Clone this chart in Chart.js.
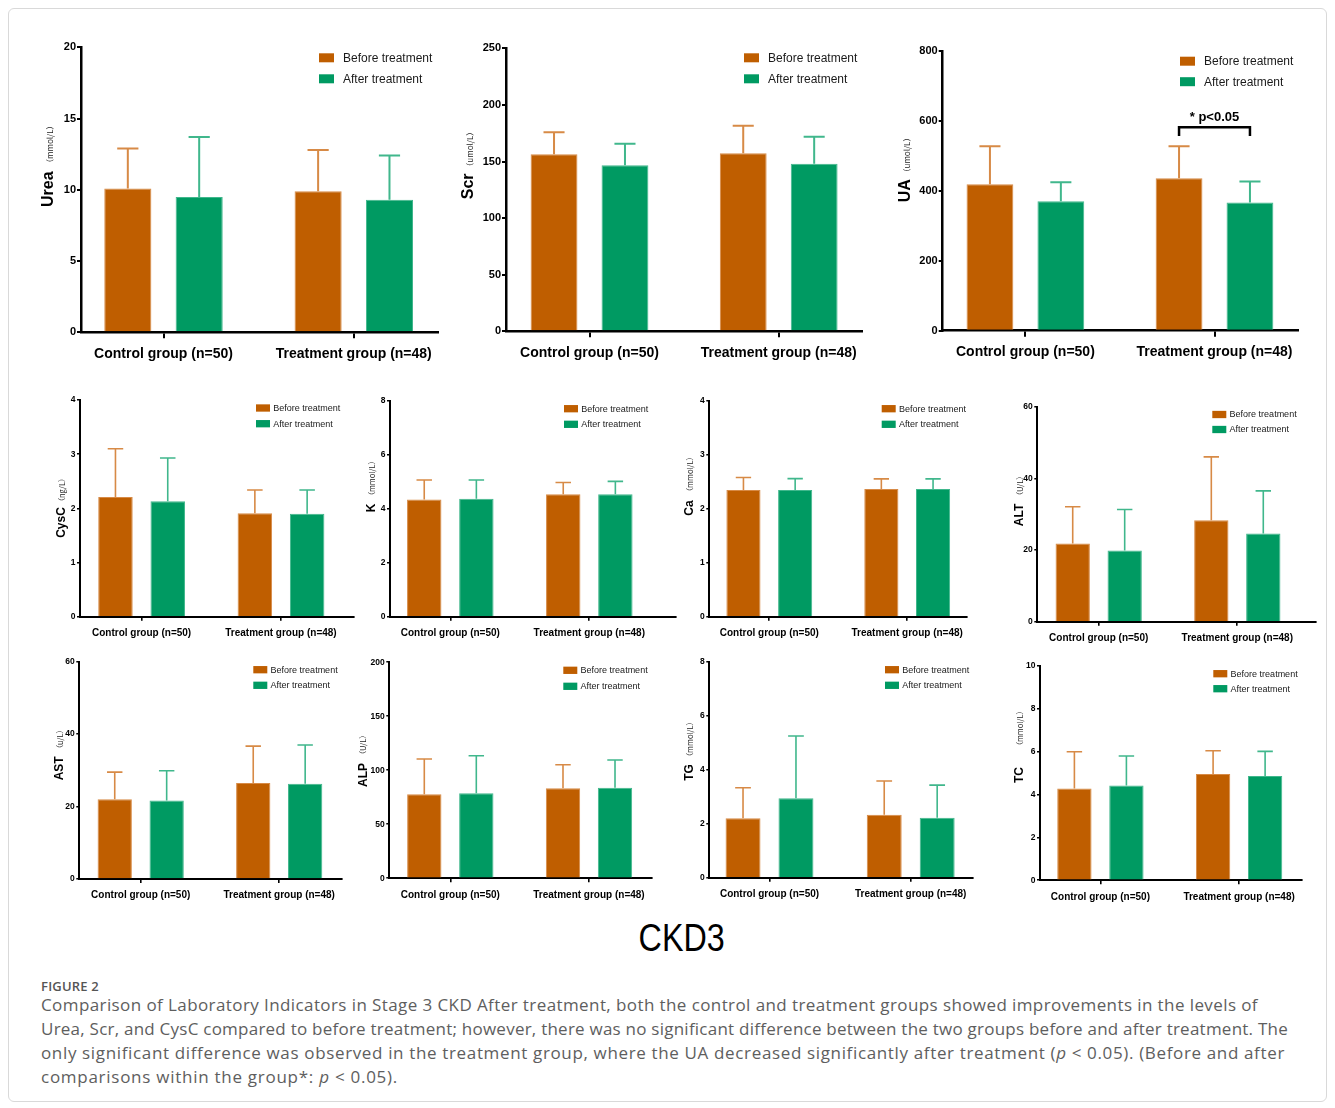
<!DOCTYPE html>
<html><head><meta charset="utf-8">
<script src="https://cdn.jsdelivr.net/npm/chart.js@4.4.0/dist/chart.umd.min.js"></script>
<style>
html,body{margin:0;padding:0;background:#fff;}
#page{position:relative;width:1335px;height:1108px;overflow:hidden;background:#fff;}
#frame{position:absolute;left:8px;top:8px;width:1319px;height:1094px;border:1px solid #d9d9d9;border-radius:6px;box-sizing:border-box;}
canvas{position:absolute;}
#ckd{position:absolute;left:14px;width:1335px;top:919px;height:38px;line-height:38px;text-align:center;font-family:"Liberation Sans",Arial,sans-serif;font-size:38px;color:#000;}
#ckd span{display:inline-block;transform:scaleX(0.85);}
#figlabel{position:absolute;left:41px;top:978px;font-family:"Open Sans",sans-serif;font-size:13px;line-height:16px;font-weight:600;color:#555;letter-spacing:0.2px;}
#caption{position:absolute;left:41px;top:993px;font-family:"Open Sans",sans-serif;font-size:17px;line-height:24px;color:#5e5e5e;white-space:nowrap;}
#caption .ln{height:24px;}
</style></head>
<body>
<div id="page">
<div id="frame"></div>
<div id="ckd"><span>CKD3</span></div>
<div id="figlabel">FIGURE 2</div>
<div id="caption">
<div class="ln" data-w="1217"><span>Comparison of Laboratory Indicators in Stage 3 CKD After treatment, both the control and treatment groups showed improvements in the levels of</span></div>
<div class="ln" data-w="1247"><span>Urea, Scr, and CysC compared to before treatment; however, there was no significant difference between the two groups before and after treatment. The</span></div>
<div class="ln" data-w="1244"><span>only significant difference was observed in the treatment group, where the UA decreased significantly after treatment (<i>p</i> &lt; 0.05). (Before and after</span></div>
<div class="ln" data-w="357"><span>comparisons within the group*: <i>p</i> &lt; 0.05).</span></div>
</div>
</div>
<script>
// ---------- data ----------
const categories = ['Control group (n=50)', 'Treatment group (n=48)'];
const seriesNames = ['Before treatment', 'After treatment'];

const ureaBefore = [10.1, 9.9];   const ureaBeforeSD = [2.8, 2.9];
const ureaAfter  = [9.5, 9.3];    const ureaAfterSD  = [4.2, 3.1];
const ureaTicks  = [0, 5, 10, 15, 20];

const scrBefore = [156.4, 157.2]; const scrBeforeSD = [19.4, 24.4];
const scrAfter  = [146.6, 148.1]; const scrAfterSD  = [19.1, 23.8];
const scrTicks  = [0, 50, 100, 150, 200, 250];

const uaBefore = [419, 436];      const uaBeforeSD = [108.5, 91.5];
const uaAfter  = [370, 367];      const uaAfterSD  = [54.5, 60];
const uaTicks  = [0, 200, 400, 600, 800];
const uaSigLabel = '* p<0.05';
const uaSigBracket = [582, 557];   // bracket bar level, leg end
const uaSigText = 610;

const cyscBefore = [2.21, 1.91];  const cyscBeforeSD = [0.89, 0.43];
const cyscAfter  = [2.13, 1.90];  const cyscAfterSD  = [0.80, 0.44];
const cyscTicks  = [0, 1, 2, 3, 4];

const kBefore = [4.35, 4.54];     const kBeforeSD = [0.72, 0.44];
const kAfter  = [4.37, 4.54];     const kAfterSD  = [0.70, 0.48];
const kTicks  = [0, 2, 4, 6, 8];

const caBefore = [2.35, 2.37];    const caBeforeSD = [0.23, 0.185];
const caAfter  = [2.35, 2.37];    const caAfterSD  = [0.21, 0.185];
const caTicks  = [0, 1, 2, 3, 4];

const altBefore = [21.8, 28.3];   const altBeforeSD = [10.3, 17.7];
const altAfter  = [19.9, 24.6];   const altAfterSD  = [11.4, 11.9];
const altTicks  = [0, 20, 40, 60];

const astBefore = [22.0, 26.5];   const astBeforeSD = [7.5, 10.2];
const astAfter  = [21.7, 26.3];   const astAfterSD  = [8.2, 10.7];
const astTicks  = [0, 20, 40, 60];

const alpBefore = [77.8, 83.3];   const alpBeforeSD = [32.7, 21.9];
const alpAfter  = [78.7, 83.9];   const alpAfterSD  = [34.8, 25.6];
const alpTicks  = [0, 50, 100, 150, 200];

const tgBefore = [2.20, 2.33];    const tgBeforeSD = [1.13, 1.25];
const tgAfter  = [2.94, 2.22];    const tgAfterSD  = [2.31, 1.21];
const tgTicks  = [0, 2, 4, 6, 8];

const tcBefore = [4.28, 4.95];    const tcBeforeSD = [1.71, 1.09];
const tcAfter  = [4.42, 4.86];    const tcAfterSD  = [1.37, 1.15];
const tcTicks  = [0, 2, 4, 6, 8, 10];

// ---------- styles ----------
const ORANGE = '#BF5E00', ORANGE_LT = '#D78A46';
const GREEN = '#009A62', GREEN_LT = '#40B78C';
const FONT = '"Liberation Sans", Arial, sans-serif';
const BIG = {tick:11, cat:14, leg:12, box:[15,9], legTx:24, title:16, unit:8, axisW:2.5, yTL:4, yPad:1, xTL:6, xPad:7.3, errW:2};
const SMALL = {tick:8.5, cat:10, leg:9, box:[14,7.3], legTx:17.3, title:12, unit:7.5, axisW:2, yTL:3, yPad:1.5, xTL:4, xPad:6.6, errW:1.6};

// layout: canvas [l,t,r,b]; axis [x0,yTop,x1,yBot]; cats [c0,c1]; legend [boxX,row1,row2]; title [baselineX, mainCenterY, unitCenterY]
const panels = [
 {main:'Urea', unit:'（mmol/L）', b:ureaBefore, bs:ureaBeforeSD, a:ureaAfter, as:ureaAfterSD, ticks:ureaTicks, st:BIG,
  canvas:[25,30,445,372], axis:[81,47.3,438,332.3], cats:[163.5,353.8], legend:[319,57.8,78.8], title:[53.3,189.2,144.2]},
 {main:'Scr', unit:'（umol/L）', b:scrBefore, bs:scrBeforeSD, a:scrAfter, as:scrAfterSD, ticks:scrTicks, st:BIG,
  canvas:[450,30,870,372], axis:[506,48.3,862.3,331.3], cats:[589.5,778.7], legend:[744,57.8,78.8], title:[473.3,186.3,149.2]},
 {main:'UA', unit:'（umol/L）', b:uaBefore, bs:uaBeforeSD, a:uaAfter, as:uaAfterSD, ticks:uaTicks, st:BIG,
  canvas:[885,30,1310,372], axis:[942.7,51,1298.3,330.7], cats:[1025.4,1214.5], legend:[1180,61.2,81.7], title:[910,190.8,155],
  sig:{cat:1, label:uaSigLabel, bracket:uaSigBracket, text:uaSigText}},
 {main:'CysC', unit:'（ng/L）', b:cyscBefore, bs:cyscBeforeSD, a:cyscAfter, as:cyscAfterSD, ticks:cyscTicks, st:SMALL,
  canvas:[35,385,358,648], axis:[80,400,353.3,616.7], cats:[141.6,281], legend:[256,408,423.7], title:[65,522.5,490]},
 {main:'K', unit:'（mmol/L）', b:kBefore, bs:kBeforeSD, a:kAfter, as:kAfterSD, ticks:kTicks, st:SMALL,
  canvas:[358,385,682,648], axis:[390,401,676,616.7], cats:[450.3,589.3], legend:[564,408.7,424.3], title:[375,508,478.3]},
 {main:'Ca', unit:'（mmol/L）', b:caBefore, bs:caBeforeSD, a:caAfter, as:caAfterSD, ticks:caTicks, st:SMALL,
  canvas:[682,385,1000,648], axis:[709.3,401,967.3,616.7], cats:[769.3,907.2], legend:[881.7,408.7,424.3], title:[693.3,508,474.2]},
 {main:'ALT', unit:'（U/L）', b:altBefore, bs:altBeforeSD, a:altAfter, as:altAfterSD, ticks:altTicks, st:SMALL,
  canvas:[1000,385,1324,648], axis:[1037.3,406.7,1316,621.7], cats:[1098.7,1237.3], legend:[1212.3,414.5,429.5], title:[1023.3,515,485.8]},
 {main:'AST', unit:'（u/L）', b:astBefore, bs:astBeforeSD, a:astAfter, as:astAfterSD, ticks:astTicks, st:SMALL,
  canvas:[35,648,345,912], axis:[79.3,661.7,341.7,879], cats:[140.7,279.2], legend:[253.3,669.7,685.3], title:[63.3,768.3,739.2]},
 {main:'ALP', unit:'（U/L）', b:alpBefore, bs:alpBeforeSD, a:alpAfter, as:alpAfterSD, ticks:alpTicks, st:SMALL,
  canvas:[345,648,665,912], axis:[389.3,662.3,651.7,878.3], cats:[450.3,589], legend:[563.3,670.3,686.3], title:[366.7,775,744.8]},
 {main:'TG', unit:'（mmol/L）', b:tgBefore, bs:tgBeforeSD, a:tgAfter, as:tgAfterSD, ticks:tgTicks, st:SMALL,
  canvas:[665,648,995,912], axis:[709.3,661.7,973.3,877.7], cats:[769.5,910.7], legend:[885,669.7,685.3], title:[693.3,772.5,739.2]},
 {main:'TC', unit:'（mmol/L）', b:tcBefore, bs:tcBeforeSD, a:tcAfter, as:tcAfterSD, ticks:tcTicks, st:SMALL,
  canvas:[995,648,1324,912], axis:[1040,665.7,1301.7,880.3], cats:[1100.4,1239.1], legend:[1213.3,673.7,688.7], title:[1023.3,775,728.3]}
];

// ---------- caption fitting ----------
function fitCaption(){
  document.querySelectorAll('#caption .ln').forEach(el => {
    const sp = el.firstElementChild;
    sp.style.letterSpacing = '0px';
    const nat = sp.getBoundingClientRect().width;
    const n = sp.textContent.length;
    sp.style.letterSpacing = ((+el.dataset.w - nat) / n) + 'px';
  });
}
fitCaption();
if (document.fonts && document.fonts.ready) document.fonts.ready.then(fitCaption);

// ---------- plugins ----------
const errorBarPlugin = {
  id:'errbars',
  afterDatasetsDraw(chart, args, o){
    const ctx = chart.ctx, ys = chart.scales.y;
    chart.data.datasets.forEach((ds, i) => {
      const meta = chart.getDatasetMeta(i);
      meta.data.forEach((bar, j) => {
        const top = ys.getPixelForValue(ds.data[j].y + ds.sd[j]);
        const cap = bar.width * 0.45;
        ctx.save();
        ctx.strokeStyle = ds.errColor; ctx.lineWidth = o.w; ctx.lineCap = 'butt';
        ctx.beginPath();
        ctx.moveTo(bar.x, bar.y); ctx.lineTo(bar.x, top);
        ctx.moveTo(bar.x - cap/2, top); ctx.lineTo(bar.x + cap/2, top);
        ctx.stroke(); ctx.restore();
      });
    });
  }
};
const keyPlugin = {
  id:'keybox',
  afterDraw(chart, args, o){
    const ctx = chart.ctx;
    chart.data.datasets.forEach((ds, i) => {
      const cy = o.rows[i] - o.oy, x = o.x - o.ox;
      ctx.save();
      ctx.fillStyle = ds.backgroundColor;
      ctx.fillRect(x, cy - o.bh/2, o.bw, o.bh);
      ctx.fillStyle = '#1a1a1a'; ctx.font = o.size + 'px ' + FONT;
      ctx.textBaseline = 'middle'; ctx.textAlign = 'left';
      ctx.fillText(ds.label, x + o.tx, cy + 0.5);
      ctx.restore();
    });
  }
};
const yTitlePlugin = {
  id:'ytitle',
  afterDraw(chart, args, o){
    const ctx = chart.ctx;
    ctx.save();
    ctx.translate(o.bx - o.ox, o.my - o.oy); ctx.rotate(-Math.PI/2);
    ctx.font = 'bold ' + o.size + 'px ' + FONT; ctx.fillStyle = '#000';
    ctx.textAlign = 'center'; ctx.textBaseline = 'alphabetic';
    ctx.fillText(o.main, 0, 0);
    ctx.restore();
    ctx.save();
    ctx.translate(o.bx - o.ox - 0.5, o.uy - o.oy); ctx.rotate(-Math.PI/2);
    ctx.font = o.usize + 'px "Noto Sans CJK SC", ' + FONT; ctx.fillStyle = '#222';
    ctx.textAlign = 'center'; ctx.textBaseline = 'alphabetic';
    ctx.fillText(o.unit, 0, 0);
    ctx.restore();
  }
};
const sigPlugin = {
  id:'sig',
  afterDraw(chart, args, o){
    if (!o.on) return;
    const ctx = chart.ctx, ys = chart.scales.y;
    const b0 = chart.getDatasetMeta(0).data[o.cat], b1 = chart.getDatasetMeta(1).data[o.cat];
    const yb = ys.getPixelForValue(o.bracket[0]), yl = ys.getPixelForValue(o.bracket[1]);
    ctx.save();
    ctx.strokeStyle = '#000'; ctx.lineWidth = 2.5; ctx.lineJoin = 'miter';
    ctx.beginPath();
    ctx.moveTo(b0.x, yl); ctx.lineTo(b0.x, yb); ctx.lineTo(b1.x, yb); ctx.lineTo(b1.x, yl);
    ctx.stroke();
    ctx.fillStyle = '#000'; ctx.font = 'bold 13px ' + FONT;
    ctx.textAlign = 'center'; ctx.textBaseline = 'middle';
    ctx.fillText(o.label, (b0.x + b1.x)/2, ys.getPixelForValue(o.text));
    ctx.restore();
  }
};

// ---------- build ----------
const page = document.getElementById('page');
panels.forEach(p => {
  const [l, t, r, b] = p.canvas;
  const [x0, yT, x1, yB] = p.axis;
  const [c0, c1] = p.cats;
  const st = p.st;
  const span = c1 - c0;
  const xmin = -(c0 - x0) / span, xmax = 1 + (x1 - c1) / span;
  const cv = document.createElement('canvas');
  cv.width = r - l; cv.height = b - t;
  cv.style.left = l + 'px'; cv.style.top = t + 'px';
  cv.style.width = (r - l) + 'px'; cv.style.height = (b - t) + 'px';
  page.appendChild(cv);
  const mk = (vals, sds, label, col, lt) => ({
    label, data: vals.map((v, i) => ({x: i, y: v})), sd: sds,
    backgroundColor: col, borderColor: lt, borderWidth: 1, errColor: lt,
    categoryPercentage: 0.75, barPercentage: 0.66
  });
  new Chart(cv, {
    type: 'bar',
    data: { datasets: [
      mk(p.b, p.bs, seriesNames[0], ORANGE, ORANGE_LT),
      mk(p.a, p.as, seriesNames[1], GREEN, GREEN_LT)
    ]},
    options: {
      responsive: false, animation: false, events: [],
      layout: { padding: { left: 0, top: yT - t, right: r - x1, bottom: 0 } },
      scales: {
        x: {
          type: 'linear', min: xmin, max: xmax, offset: false,
          afterBuildTicks: s => { s.ticks = [{value: 0}, {value: 1}]; },
          afterFit: s => { s.height = b - yB; },
          grid: { display: true, drawOnChartArea: false, drawTicks: true, tickLength: st.xTL, color: '#000', lineWidth: st.axisW * 0.8, offset: false },
          border: { display: true, color: '#000', width: st.axisW },
          ticks: { autoSkip: false, maxRotation: 0, padding: st.xPad, color: '#000',
                   font: { family: FONT, size: st.cat, weight: 'bold' },
                   callback: (v, i) => categories[i] }
        },
        y: {
          min: p.ticks[0], max: p.ticks[p.ticks.length - 1],
          afterBuildTicks: s => { s.ticks = p.ticks.map(v => ({value: v})); },
          afterFit: s => { s.width = x0 - l; },
          grid: { display: true, drawOnChartArea: false, drawTicks: true, tickLength: st.yTL, color: '#000', lineWidth: st.axisW * 0.8 },
          border: { display: true, color: '#000', width: st.axisW },
          ticks: { padding: st.yPad, color: '#000', font: { family: FONT, size: st.tick, weight: 'bold' },
                   callback: v => String(v) }
        }
      },
      plugins: {
        legend: { display: false }, tooltip: { enabled: false },
        errbars: { w: st.errW },
        keybox: { x: p.legend[0], rows: [p.legend[1], p.legend[2]], ox: l, oy: t, bw: st.box[0], bh: st.box[1], tx: st.legTx, size: st.leg },
        ytitle: { main: p.main, unit: p.unit, bx: p.title[0], my: p.title[1], uy: p.title[2], ox: l, oy: t, size: st.title, usize: st.unit },
        sig: p.sig ? { on: true, cat: p.sig.cat, label: p.sig.label, bracket: p.sig.bracket, text: p.sig.text } : { on: false }
      }
    },
    plugins: [errorBarPlugin, keyPlugin, yTitlePlugin, sigPlugin]
  });
});
</script>
</body></html>
